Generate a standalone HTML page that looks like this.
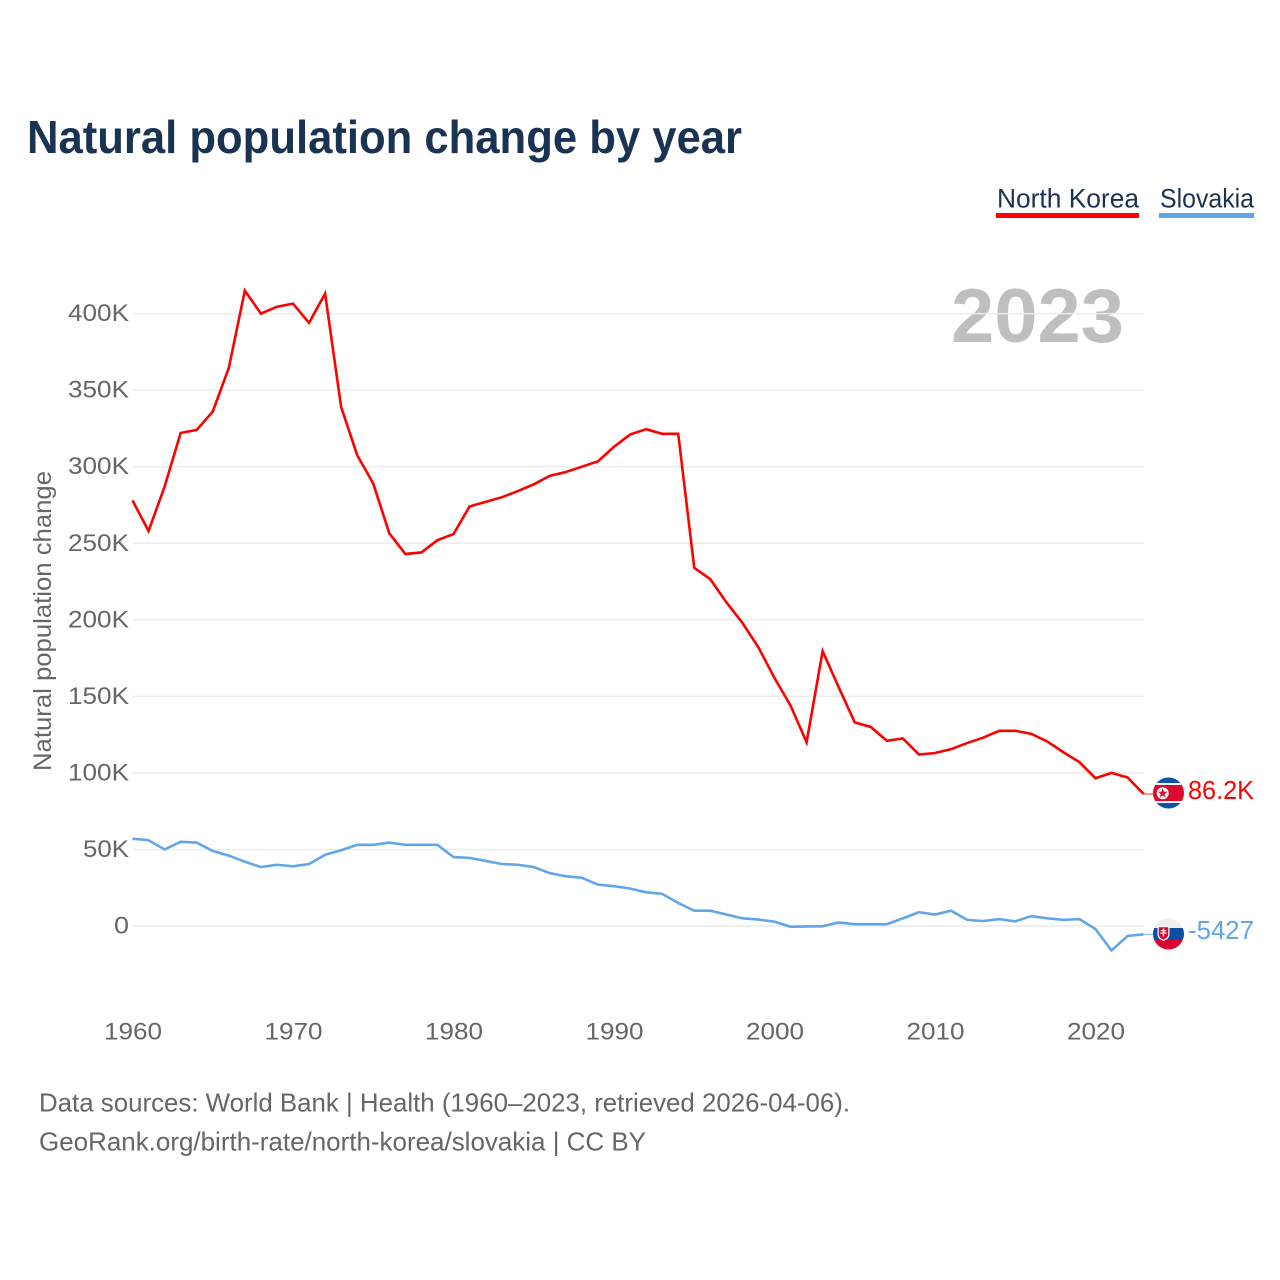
<!DOCTYPE html>
<html lang="en">
<head>
<meta charset="utf-8">
<title>Natural population change by year</title>
<style>
html,body{margin:0;padding:0;background:#fff;width:1280px;height:1280px;overflow:hidden}
svg{display:block}
text{font-family:"Liberation Sans",sans-serif}
</style>
</head>
<body>
<svg id="chart" xmlns="http://www.w3.org/2000/svg" width="1280" height="1280" viewBox="0 0 1280 1280">
  <defs>
    <clipPath id="clip-nk"><circle cx="1168.5" cy="793" r="15.5"/></clipPath>
    <clipPath id="clip-sk"><circle cx="1168.5" cy="934" r="15.5"/></clipPath>
  </defs>
  <text x="27" y="153" font-size="46" font-weight="700" fill="#1a3352" textLength="715" lengthAdjust="spacingAndGlyphs">Natural population change by year</text>

  <g>
    <text x="997" y="207.500" font-size="27" fill="#1a3352" textLength="142" lengthAdjust="spacingAndGlyphs">North Korea</text>
    <rect x="996" y="213" width="143" height="5" fill="#ff0000"/>
  </g>
  <g>
    <text x="1160" y="207.500" font-size="27" fill="#1a3352" textLength="94" lengthAdjust="spacingAndGlyphs">Slovakia</text>
    <rect x="1159" y="213" width="95" height="5" fill="#62a6ea"/>
  </g>

  <text x="1124" y="342" text-anchor="end" font-size="76" font-weight="700" fill="#bfbfbf" textLength="173" lengthAdjust="spacingAndGlyphs">2023</text>

  <text transform="translate(51 621) rotate(-90)" text-anchor="middle" font-size="25" fill="#666" textLength="300" lengthAdjust="spacingAndGlyphs">Natural population change</text>

  <g id="grid"></g>
  <g id="yticks"></g>
  <g id="xticks"></g>
  <g id="lines"></g>

  <g clip-path="url(#clip-nk)">
    <rect x="1153" y="777" width="31" height="32" fill="#0d52ad"/>
    <rect x="1153" y="783" width="31" height="20" fill="#f5f5f5"/>
    <rect x="1153" y="785" width="31" height="16" fill="#dc0a2c"/>
    <circle cx="1162.700" cy="793.300" r="6" fill="#f5f5f5"/>
    <polygon points="1162.700,788.300 1163.900,791.700 1167.400,791.800 1164.600,794 1165.600,797.400 1162.700,795.400 1159.800,797.400 1160.800,794 1158,791.800 1161.500,791.700" fill="#dc0a2c"/>
  </g>
  <text id="nk-value" x="1188" y="799" font-size="26" fill="#ff0000" textLength="66" lengthAdjust="spacingAndGlyphs"></text>

  <g clip-path="url(#clip-sk)">
    <rect x="1153" y="918" width="31" height="10" fill="#eeeeee"/>
    <rect x="1153" y="928" width="31" height="11" fill="#0b4ea2"/>
    <rect x="1153" y="939" width="31" height="11" fill="#d8062e"/>
    <path d="M1157.500 926h12v8.500c0 3.500-3.200 5.500-6 6.500-2.800-1-6-3-6-6.500z" fill="#f5f5f5"/>
    <path d="M1158.800 927.300h9.400v7.200c0 2.700-2.500 4.200-4.700 5-2.200-.8-4.700-2.300-4.700-5z" fill="#d8062e"/>
    <path d="M1162.800 928.500h1.400v1.500h2v1.200h-2v1.300h2.500v1.200h-2.500v2.800h-1.400v-2.800h-2.500v-1.200h2.500v-1.300h-2v-1.200h2z" fill="#f5f5f5"/>
  </g>
  <text id="sk-value" x="1188" y="939" font-size="26" fill="#62a6ea" textLength="66" lengthAdjust="spacingAndGlyphs"></text>

  <text x="39" y="1111.500" font-size="26" fill="#666" textLength="811" lengthAdjust="spacingAndGlyphs">Data sources: World Bank | Health (1960–2023, retrieved 2026-04-06).</text>
  <text x="39" y="1150.500" font-size="26" fill="#666" textLength="607" lengthAdjust="spacingAndGlyphs">GeoRank.org/birth-rate/north-korea/slovakia | CC BY</text>
</svg>
<script>
const startYear = 1960;
const northKorea = [278,258,287,322,324,336,364.5,415,400,404.5,406.5,394,413,339,307.5,289,256.5,243,244,252,256,274,277,280,284,288.5,294,296.5,300,303.5,313,321,324.5,321.5,321.5,234,226.5,211.5,198,182,162,144,120,179.5,156,133,130,121,122.5,112,113,115.5,119.5,123,127.5,127.5,125.5,120.5,113.5,107,96.5,100,97,86.2];
const slovakia = [57,56,50,55,54.5,49,46,42,38.5,40,39,40.5,46.5,49.5,53,53,54.5,53,53,53,45,44.5,42.5,40.5,40,38.5,34.5,32.5,31.5,27,26,24.5,22,21,15,10,10,7.5,5,4.2,2.8,-0.5,-0.3,-0.2,2.3,1.2,1.2,1.2,5,9,7.5,10,4,3.2,4.5,3,6.5,5,4,4.5,-2,-16,-6.5,-5.427];
const yTickValues = [0,50,100,150,200,250,300,350,400];
const yTickLabels = ['0','50K','100K','150K','200K','250K','300K','350K','400K'];
const xTickYears = [1960,1970,1980,1990,2000,2010,2020];
const northKoreaLabel = '86.2K';
const slovakiaLabel = '-5427';

const NS = 'http://www.w3.org/2000/svg';
function xScale(year){ return 132.5 + (year - 1960) * 16.05; }
function yScale(value){ return 926 - value * 1.531; }
function make(tag, attrs, parent){
  const el = document.createElementNS(NS, tag);
  for (const k in attrs) el.setAttribute(k, attrs[k]);
  parent.appendChild(el);
  return el;
}
const grid = document.getElementById('grid');
const yticks = document.getElementById('yticks');
const xticks = document.getElementById('xticks');
const lines = document.getElementById('lines');

yTickValues.forEach(function(v, i){
  const y = yScale(v);
  const g = make('line', {x1:133, x2:1144, y1:y, y2:y, stroke:'#ececec', 'stroke-width':1.5}, grid);
  
  
  const label = yTickLabels[i];
  const t = make('text', {x:129, y:y+7.5, 'text-anchor':'end', 'font-size':24.5, fill:'#666', textLength: label.length === 1 ? 15 : (label.length === 3 ? 46 : 61), lengthAdjust:'spacingAndGlyphs'}, yticks);
  
  
  t.textContent = label;
});

xTickYears.forEach(function(year){
  const t = make('text', {x:xScale(year)+0.5, y:1039.5, 'text-anchor':'middle', 'font-size':24.5, fill:'#666', textLength:58, lengthAdjust:'spacingAndGlyphs'}, xticks);
  
  
  t.textContent = String(year);
});

function pathFor(values){
  return values.map(function(v, i){
    return (i ? 'L' : 'M') + xScale(startYear + i).toFixed(2) + ' ' + yScale(v).toFixed(2);
  }).join(' ');
}
function connector(values, name, color){
  const y = yScale(values[values.length - 1]);
  const c = make('line', {x1:xScale(startYear + values.length - 1), x2:1153, y1:y, y2:y, stroke:color, 'stroke-width':1.2, 'stroke-opacity':0.7}, lines);
  
  
}
connector(slovakia, 'connector-slovakia', '#62a6ea');
connector(northKorea, 'connector-north-korea', '#ff0000');
const skLine = make('path', {d:pathFor(slovakia), fill:'none', stroke:'#62a6ea', 'stroke-width':2.6, 'stroke-linejoin':'miter'}, lines);


const nkLine = make('path', {d:pathFor(northKorea), fill:'none', stroke:'#ff0000', 'stroke-width':2.6, 'stroke-linejoin':'miter'}, lines);



document.getElementById('nk-value').textContent = northKoreaLabel;
document.getElementById('sk-value').textContent = slovakiaLabel;
</script>
</body>
</html>
